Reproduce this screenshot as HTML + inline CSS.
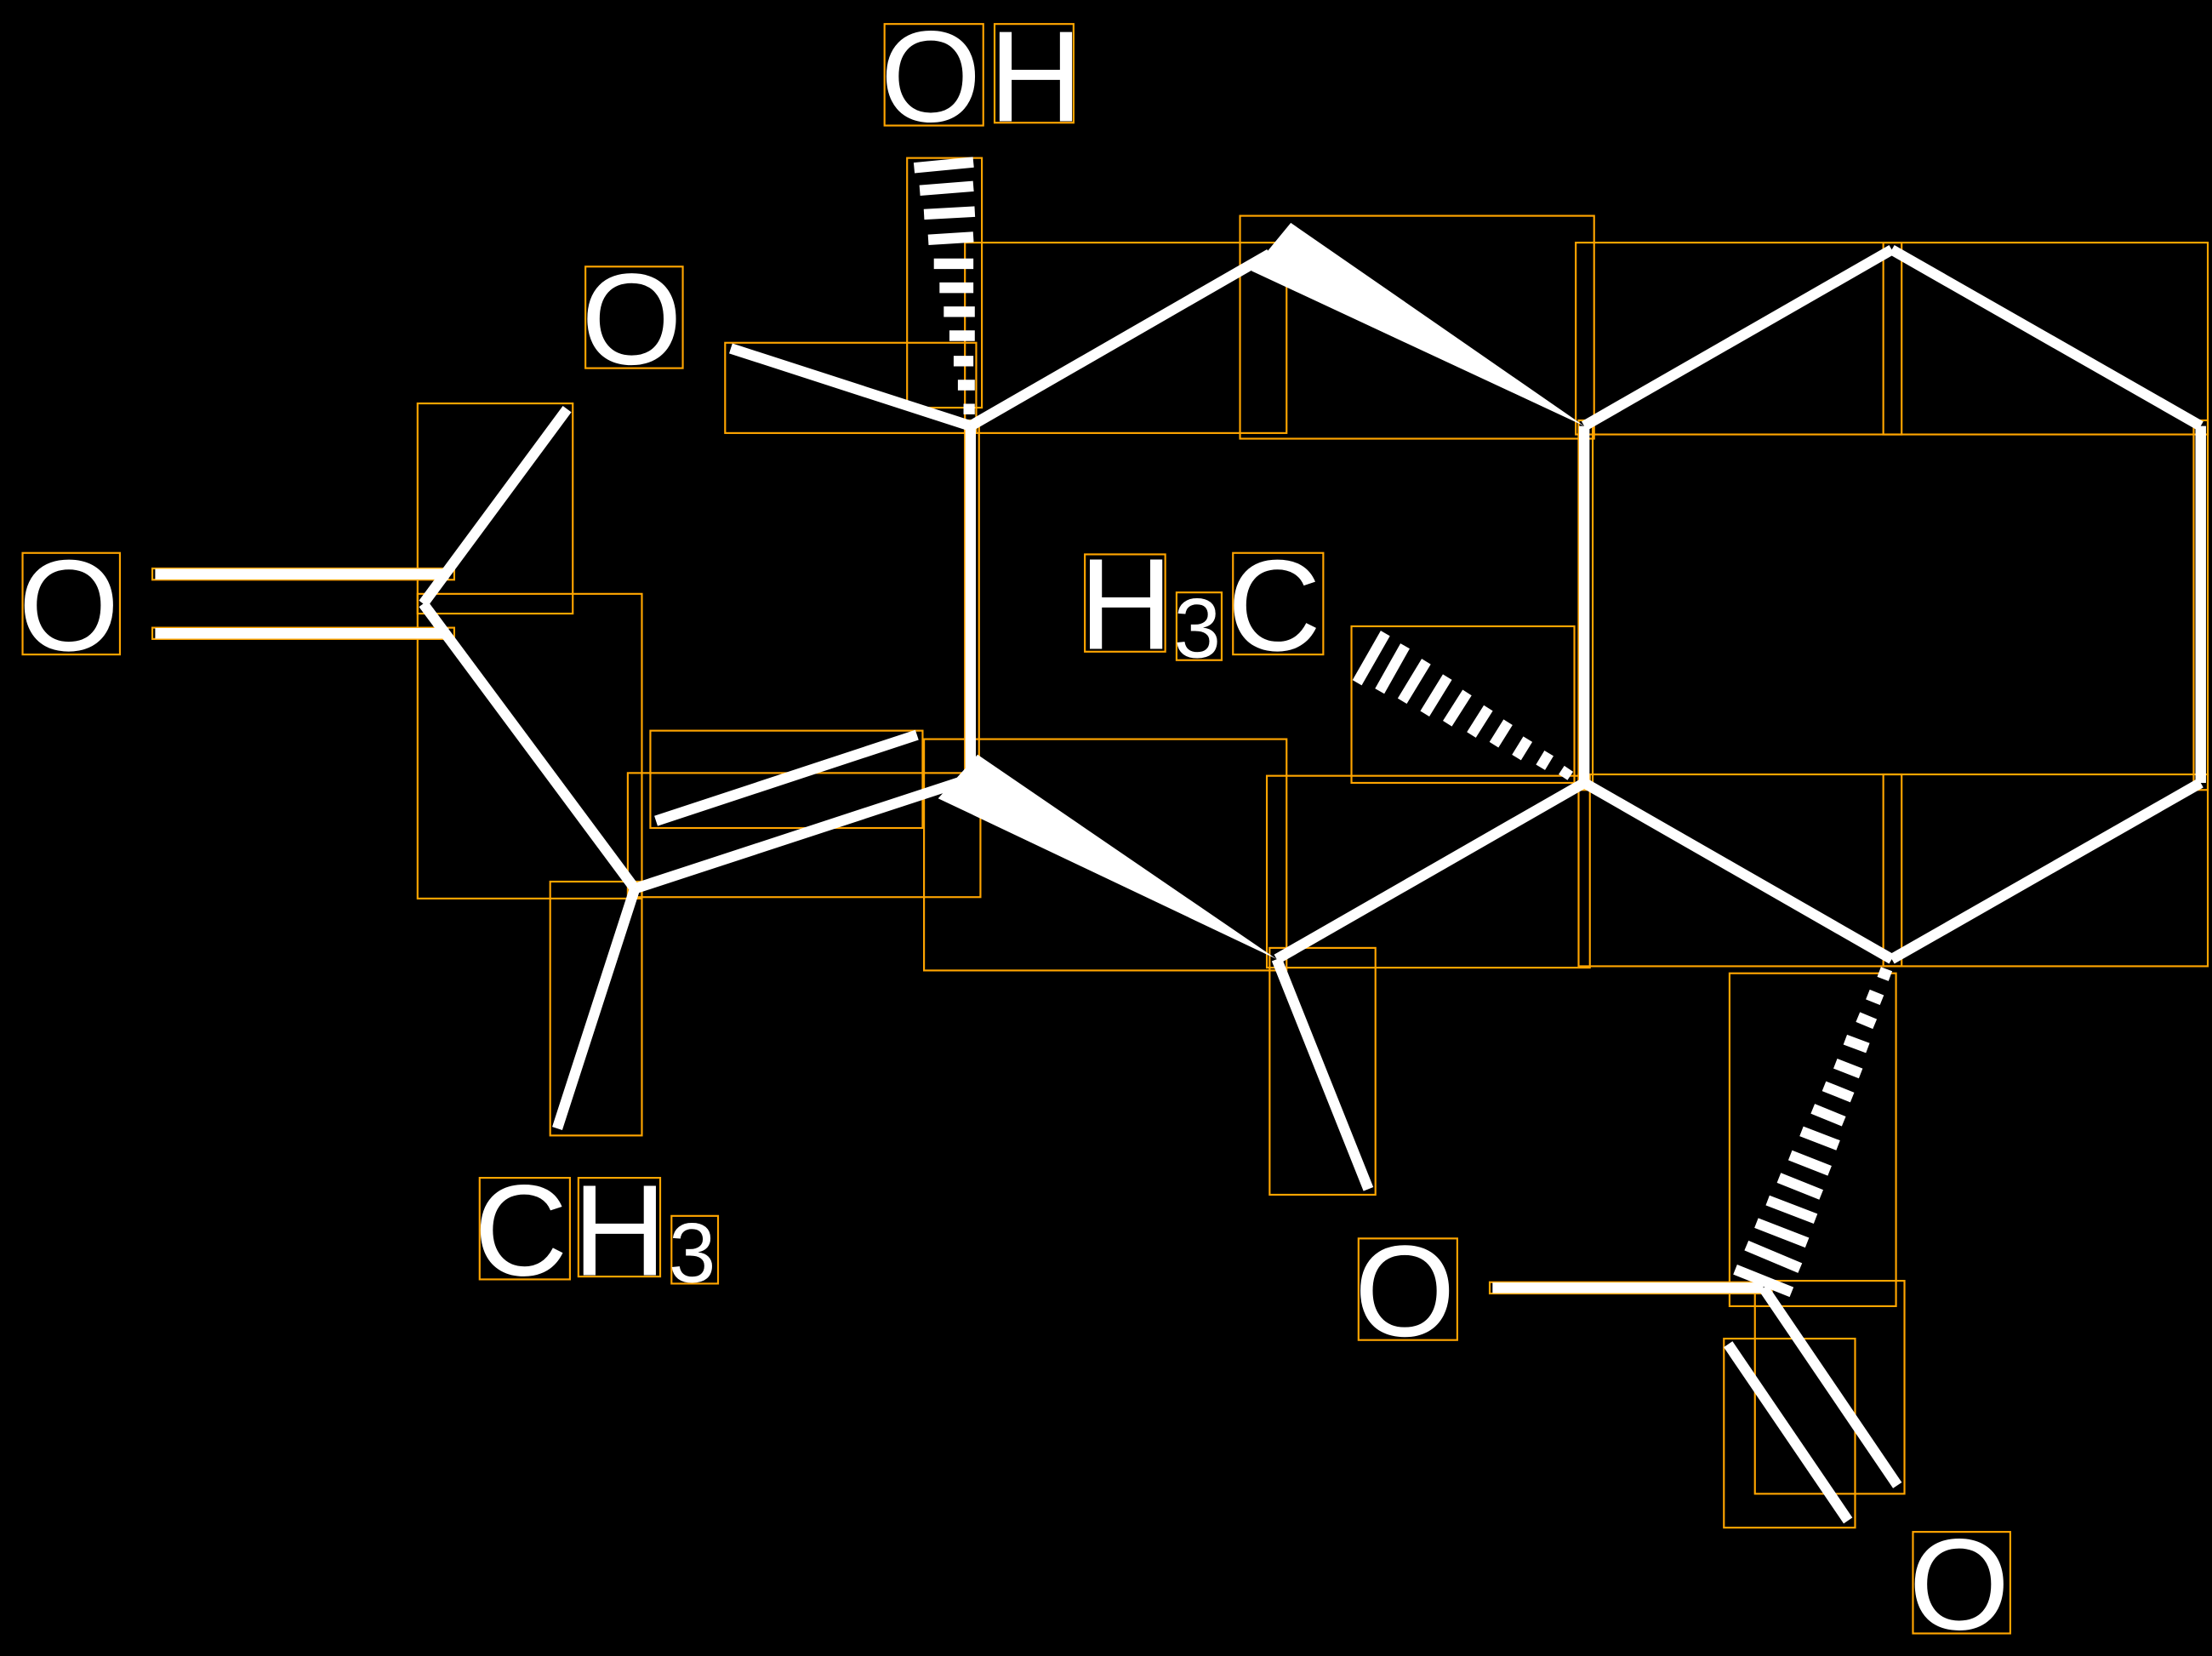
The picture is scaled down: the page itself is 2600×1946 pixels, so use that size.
<!DOCTYPE html>
<html><head><meta charset="utf-8"><style>html,body{margin:0;padding:0;background:#000}svg{display:block}</style></head>
<body>
<svg width="2600" height="1946" viewBox="0 0 1568 1174" preserveAspectRatio="none" xmlns="http://www.w3.org/2000/svg">
<rect width="1568" height="1174" fill="#000"/>
<g fill="none" stroke="#FFA500" stroke-width="1.3">
<rect x="627" y="17" width="70" height="72"/><rect x="705" y="17" width="56" height="70"/>
<rect x="643" y="112" width="53" height="177"/>
<rect x="684" y="172" width="228" height="135"/>
<rect x="879" y="153" width="251" height="158"/>
<rect x="1117" y="172" width="231" height="136"/><rect x="1335" y="172" width="230" height="136"/>
<rect x="415" y="189" width="69" height="72"/>
<rect x="514" y="243" width="178" height="64"/>
<rect x="296" y="286" width="110" height="149"/>
<rect x="16" y="392" width="69" height="72"/>
<rect x="296" y="421" width="159" height="216"/>
<rect x="769" y="393" width="57" height="69"/><rect x="834" y="420" width="32" height="48"/><rect x="874" y="392" width="64" height="72"/>
<rect x="958" y="444" width="158" height="111"/>
<rect x="461" y="518" width="193" height="69"/>
<rect x="445" y="548" width="250" height="88"/>
<rect x="655" y="524" width="257" height="164"/>
<rect x="898" y="550" width="229" height="136"/>
<rect x="1119" y="549" width="229" height="136"/><rect x="1335" y="549" width="230" height="136"/>
<rect x="390" y="625" width="65" height="180"/>
<rect x="900" y="672" width="75" height="175"/>
<rect x="1226" y="690" width="118" height="236"/>
<rect x="340" y="835" width="64" height="72"/><rect x="410" y="835" width="58" height="70"/><rect x="476" y="862" width="33" height="48"/>
<rect x="963" y="878" width="70" height="72"/>
<rect x="1244" y="908" width="106" height="151"/>
<rect x="1222" y="949" width="93" height="134"/>
<rect x="1356" y="1086" width="69" height="72"/>
<rect x="108" y="403" width="214" height="8"/><rect x="108" y="445" width="214" height="8"/>
<rect x="1056" y="909" width="200" height="8"/>
<rect x="684" y="298" width="10" height="264"/><rect x="1119" y="298" width="10" height="262"/><rect x="1555" y="298" width="10" height="262"/>
</g>
<g stroke="#fff" stroke-width="7.5" fill="none" stroke-linecap="butt">
<line x1="110" y1="407" x2="318" y2="407"/><line x1="110" y1="449" x2="318" y2="449"/>
<line x1="300" y1="428" x2="402" y2="290"/><line x1="300" y1="428" x2="450" y2="630"/>
<line x1="450" y1="630" x2="395" y2="800"/>
<line x1="450" y1="630" x2="688" y2="552"/><line x1="465" y1="582" x2="650" y2="521"/>
<line x1="688" y1="302" x2="688" y2="555"/>
<line x1="688" y1="302" x2="518" y2="247"/>
<line x1="688" y1="302" x2="900" y2="180"/>
<line x1="1123" y1="302" x2="1123" y2="555"/>
<line x1="1123" y1="302" x2="1341" y2="177"/><line x1="1341" y1="177" x2="1560" y2="302"/>
<line x1="1560" y1="302" x2="1560" y2="555"/>
<line x1="1560" y1="555" x2="1341" y2="680"/><line x1="1341" y1="680" x2="1123" y2="555"/>
<line x1="1123" y1="555" x2="905" y2="680"/>
<line x1="905" y1="680" x2="970" y2="843"/>
<line x1="1058" y1="913" x2="1250" y2="913"/>
<line x1="1250" y1="913" x2="1345" y2="1053"/><line x1="1225" y1="953" x2="1310" y2="1078"/>
<line x1="683" y1="290" x2="691" y2="290"/><line x1="679" y1="273" x2="691" y2="273"/><line x1="676" y1="256" x2="690" y2="256"/>
<line x1="673" y1="238" x2="691" y2="238"/><line x1="669" y1="221" x2="691" y2="221"/><line x1="666" y1="204" x2="690" y2="204"/>
<line x1="662" y1="187" x2="690" y2="187"/><line x1="658" y1="170" x2="690" y2="168"/><line x1="655" y1="152" x2="691" y2="150"/>
<line x1="652" y1="135" x2="690" y2="132"/><line x1="648" y1="119" x2="690" y2="115"/>
<line x1="1108" y1="551" x2="1112" y2="545"/><line x1="1092" y1="544" x2="1098" y2="534"/><line x1="1075" y1="537" x2="1083" y2="524"/>
<line x1="1059" y1="528" x2="1069" y2="512"/><line x1="1043" y1="521" x2="1055" y2="502"/><line x1="1026" y1="513" x2="1040" y2="491"/>
<line x1="1010" y1="506" x2="1026" y2="480"/><line x1="994" y1="497" x2="1011" y2="469"/><line x1="978" y1="490" x2="996" y2="458"/>
<line x1="962" y1="484" x2="982" y2="449"/>
<line x1="1332" y1="689" x2="1340" y2="692"/><line x1="1324" y1="705" x2="1334" y2="709"/><line x1="1317" y1="721" x2="1329" y2="726"/>
<line x1="1308" y1="737" x2="1324" y2="743"/><line x1="1301" y1="754" x2="1319" y2="761"/><line x1="1293" y1="770" x2="1313" y2="778"/>
<line x1="1285" y1="786" x2="1307" y2="795"/><line x1="1277" y1="802" x2="1303" y2="812"/><line x1="1269" y1="819" x2="1297" y2="830"/>
<line x1="1261" y1="835" x2="1291" y2="847"/><line x1="1253" y1="851" x2="1287" y2="864"/><line x1="1245" y1="867" x2="1281" y2="881"/>
<line x1="1238" y1="883" x2="1276" y2="899"/><line x1="1230" y1="900" x2="1270" y2="916"/>
</g>
<g fill="#fff">
<polygon points="1123,302 915,158 887,192"/>
<polygon points="905,680 693,535 665,566"/>
</g>
<g fill="#fff" font-family="'Liberation Sans', sans-serif" font-size="92">
<text x="624" y="86">O</text><text x="701" y="86">H</text>
<text x="412" y="258">O</text>
<text x="13" y="461">O</text>
<text x="765" y="460">H</text><text x="832" y="466" font-size="60">3</text><text x="870" y="461">C</text>
<text x="336" y="904">C</text><text x="406" y="904">H</text><text x="474" y="909" font-size="60">3</text>
<text x="960" y="947">O</text>
<text x="1353" y="1155">O</text>
</g>
</svg>
</body></html>
